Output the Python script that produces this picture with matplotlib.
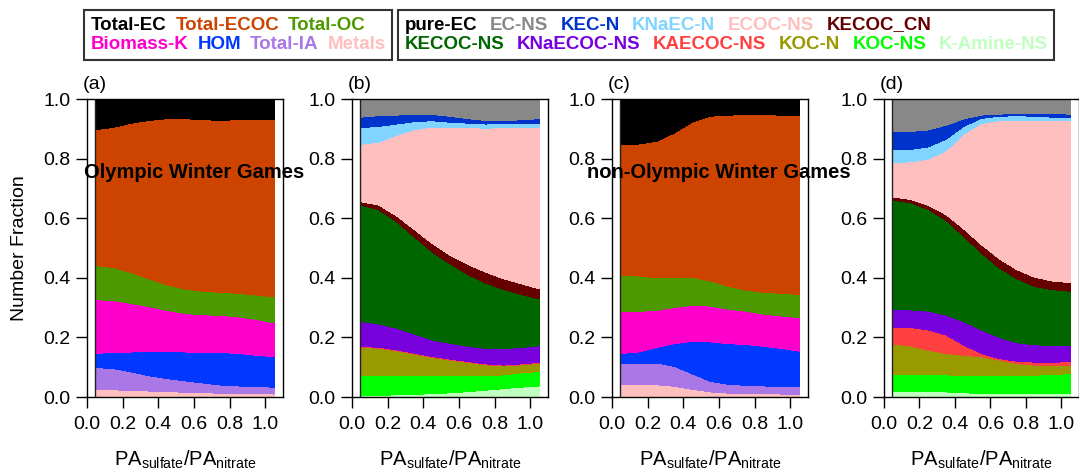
import matplotlib
matplotlib.use('Agg')
import matplotlib.pyplot as plt
from matplotlib.offsetbox import TextArea, HPacker, VPacker, AnchoredOffsetbox

plt.rcParams['font.family'] = ['Liberation Sans', 'DejaVu Sans']
plt.rcParams['mathtext.default'] = 'regular'

# PA_sulfate / PA_nitrate bins
x = [0.05, 0.15, 0.25, 0.35, 0.45, 0.55, 0.65, 0.75, 0.85, 0.95, 1.05]

# ---- main classes, bottom -> top ----
main_names = ['Metals', 'Total-IA', 'HOM', 'Biomass-K', 'Total-OC', 'Total-ECOC', 'Total-EC']
main_colors = ['#FFBFBF', '#AA77E6', '#0038FF', '#FF00CC', '#4D9900', '#CC4400', '#000000']

# (a) Olympic Winter Games
olym_metals = [0.025, 0.024, 0.022, 0.020, 0.018, 0.016, 0.014, 0.013, 0.012, 0.011, 0.010]
olym_ia = [0.074, 0.071, 0.062, 0.051, 0.044, 0.038, 0.033, 0.027, 0.025, 0.024, 0.023]
olym_hom = [0.047, 0.055, 0.067, 0.081, 0.090, 0.097, 0.103, 0.109, 0.109, 0.105, 0.102]
olym_bk = [0.181, 0.173, 0.163, 0.151, 0.139, 0.129, 0.126, 0.125, 0.123, 0.120, 0.114]
olym_oc = [0.114, 0.111, 0.103, 0.093, 0.085, 0.082, 0.079, 0.077, 0.079, 0.082, 0.087]
olym_ecoc = [0.456, 0.471, 0.502, 0.532, 0.558, 0.572, 0.575, 0.578, 0.582, 0.588, 0.594]
olym_ec = [0.103, 0.095, 0.081, 0.072, 0.066, 0.066, 0.070, 0.071, 0.070, 0.070, 0.070]

# (c) non-Olympic Winter Games
non_metals = [0.043, 0.043, 0.041, 0.036, 0.026, 0.017, 0.013, 0.012, 0.011, 0.010, 0.009]
non_ia = [0.069, 0.071, 0.073, 0.067, 0.052, 0.036, 0.030, 0.027, 0.026, 0.026, 0.025]
non_hom = [0.034, 0.037, 0.052, 0.076, 0.109, 0.132, 0.136, 0.137, 0.133, 0.127, 0.120]
non_bk = [0.140, 0.136, 0.125, 0.121, 0.121, 0.120, 0.116, 0.112, 0.108, 0.109, 0.112]
non_oc = [0.123, 0.119, 0.109, 0.100, 0.093, 0.085, 0.077, 0.071, 0.073, 0.076, 0.078]
non_ecoc = [0.437, 0.443, 0.458, 0.486, 0.521, 0.552, 0.574, 0.588, 0.596, 0.598, 0.601]
non_ec = [0.154, 0.151, 0.142, 0.114, 0.078, 0.058, 0.054, 0.053, 0.053, 0.054, 0.055]

# ---- sub classes, bottom -> top ----
sub_names = ['K-Amine-NS', 'KOC-NS', 'KOC-N', 'KAECOC-NS', 'KNaECOC-NS', 'KECOC-NS',
             'KECOC_CN', 'ECOC-NS', 'KNaEC-N', 'KEC-N', 'EC-NS', 'pure-EC']
sub_colors = ['#C0FFC0', '#00FF00', '#999900', '#FF4040', '#7700DD', '#006600',
              '#660000', '#FFBFBF', '#80D4FF', '#0033CC', '#888888', '#000000']

# (b) Olympic Winter Games
olym_kamine = [0.005, 0.006, 0.007, 0.009, 0.011, 0.014, 0.018, 0.023, 0.028, 0.033, 0.037]
olym_kocns = [0.068, 0.067, 0.065, 0.063, 0.062, 0.059, 0.054, 0.049, 0.046, 0.048, 0.048]
olym_kocn = [0.093, 0.091, 0.083, 0.072, 0.060, 0.051, 0.044, 0.036, 0.030, 0.027, 0.028]
olym_kaecoc = [0.003, 0.003, 0.003, 0.003, 0.003, 0.003, 0.003, 0.003, 0.003, 0.003, 0.003]
olym_knaecoc = [0.084, 0.078, 0.073, 0.064, 0.055, 0.053, 0.051, 0.052, 0.055, 0.055, 0.056]
olym_kecocns = [0.391, 0.384, 0.357, 0.326, 0.296, 0.267, 0.241, 0.219, 0.199, 0.178, 0.157]
olym_kecoccn = [0.011, 0.015, 0.020, 0.025, 0.028, 0.029, 0.034, 0.037, 0.036, 0.036, 0.034]
olym_ecocns = [0.193, 0.211, 0.270, 0.335, 0.391, 0.430, 0.459, 0.483, 0.507, 0.526, 0.543]
olym_knaecn = [0.056, 0.053, 0.038, 0.027, 0.021, 0.016, 0.015, 0.014, 0.013, 0.012, 0.013]
olym_kecn = [0.035, 0.036, 0.030, 0.025, 0.021, 0.020, 0.015, 0.012, 0.011, 0.012, 0.015]
olym_ecns = [0.058, 0.053, 0.051, 0.048, 0.049, 0.055, 0.063, 0.069, 0.069, 0.067, 0.063]
olym_pureec = [0.003, 0.003, 0.003, 0.003, 0.003, 0.003, 0.003, 0.003, 0.003, 0.003, 0.003]

# (d) non-Olympic Winter Games
non_kamine = [0.017, 0.018, 0.018, 0.017, 0.014, 0.012, 0.012, 0.013, 0.013, 0.013, 0.013]
non_kocns = [0.058, 0.057, 0.057, 0.057, 0.059, 0.060, 0.059, 0.059, 0.060, 0.063, 0.065]
non_kocn = [0.103, 0.096, 0.082, 0.072, 0.067, 0.063, 0.053, 0.040, 0.034, 0.031, 0.029]
non_kaecoc = [0.056, 0.062, 0.068, 0.062, 0.034, 0.011, 0.005, 0.008, 0.010, 0.010, 0.011]
non_knaecoc = [0.058, 0.059, 0.063, 0.067, 0.079, 0.079, 0.071, 0.062, 0.058, 0.056, 0.056]
non_kecocns = [0.368, 0.360, 0.341, 0.318, 0.286, 0.258, 0.233, 0.215, 0.196, 0.187, 0.181]
non_kecoccn = [0.011, 0.011, 0.014, 0.019, 0.025, 0.028, 0.031, 0.030, 0.031, 0.029, 0.029]
non_ecocns = [0.116, 0.126, 0.155, 0.214, 0.318, 0.407, 0.463, 0.502, 0.527, 0.540, 0.543]
non_knaecn = [0.044, 0.042, 0.041, 0.039, 0.026, 0.017, 0.015, 0.015, 0.013, 0.010, 0.011]
non_kecn = [0.059, 0.060, 0.057, 0.047, 0.025, 0.011, 0.007, 0.008, 0.010, 0.013, 0.011]
non_ecns = [0.107, 0.106, 0.101, 0.085, 0.064, 0.051, 0.048, 0.045, 0.045, 0.045, 0.048]
non_pureec = [0.003, 0.003, 0.003, 0.003, 0.003, 0.003, 0.003, 0.003, 0.003, 0.003, 0.003]

panels = [
    ('(a)', [olym_metals, olym_ia, olym_hom, olym_bk, olym_oc, olym_ecoc, olym_ec], main_colors, 'Olympic Winter Games'),
    ('(b)', [olym_kamine, olym_kocns, olym_kocn, olym_kaecoc, olym_knaecoc, olym_kecocns, olym_kecoccn,
             olym_ecocns, olym_knaecn, olym_kecn, olym_ecns, olym_pureec], sub_colors, None),
    ('(c)', [non_metals, non_ia, non_hom, non_bk, non_oc, non_ecoc, non_ec], main_colors, 'non-Olympic Winter Games'),
    ('(d)', [non_kamine, non_kocns, non_kocn, non_kaecoc, non_knaecoc, non_kecocns, non_kecoccn,
             non_ecocns, non_knaecn, non_kecn, non_ecns, non_pureec], sub_colors, None),
]

W, H = 1079, 475
fig = plt.figure(figsize=(W / 100, H / 100), dpi=100)
lefts = [87, 352, 612, 884]
widths = [196, 196, 196, 195]

for (tag, series, colors, title), left, w in zip(panels, lefts, widths):
    ax = fig.add_axes([left / W, 78 / H, w / W, 298 / H])
    ax.stackplot(x, *series, colors=colors, linewidth=0, antialiased=False)
    ax.axvline(0.045, color='#222222', lw=1)
    ax.set_xlim(0, 1.1)
    ax.set_ylim(0, 1.0)
    ax.set_xticks([0, 0.2, 0.4, 0.6, 0.8, 1.0])
    ax.set_xticklabels(['0.0', '0.2', '0.4', '0.6', '0.8', '1.0'])
    ax.set_yticks([0, 0.2, 0.4, 0.6, 0.8, 1.0])
    ax.set_yticklabels(['0.0', '0.2', '0.4', '0.6', '0.8', '1.0'])
    ax.tick_params(direction='out', length=8, width=1, labelsize=14, pad=4)
    ax.tick_params(axis='x', pad=6)
    for s in ax.spines.values():
        s.set_linewidth(1)
    ax.set_xlabel('PA$_{sulfate}$/PA$_{nitrate}$', fontsize=14.5, va='top')
    ax.xaxis.set_label_coords(0.5, -0.175)
    ax.text(-0.02, 1.034, tag, transform=ax.transAxes, fontsize=14, ha='left', va='baseline')
    if title:
        ax.text(0.6, 0.755, title, fontsize=14.5, fontweight='bold', ha='center', va='center', zorder=5)

fig.text(20 / W, (475 - 248) / H, 'Number Fraction', rotation=90, fontsize=14, ha='center', va='center')


def text_box(rows, x0, sep):
    vrows = []
    for row in rows:
        items = [TextArea(n, textprops=dict(color=c, fontsize=13.5, fontweight='bold')) for n, c in row]
        vrows.append(HPacker(children=items, align='baseline', pad=0, sep=sep))
    box = VPacker(children=vrows, align='left', pad=0, sep=2)
    anch = AnchoredOffsetbox(loc='upper left', child=box, pad=0.36, frameon=True,
                             bbox_to_anchor=(x0 / W, 1 - 10 / H), bbox_transform=fig.transFigure,
                             borderpad=0, prop=dict(size=13))
    anch.patch.set_edgecolor('#333333')
    anch.patch.set_linewidth(1.5)
    anch.patch.set_boxstyle('square', pad=0)
    fig.add_artist(anch)


main_top = list(zip(main_names, main_colors))[::-1]
text_box([main_top[:3], main_top[3:]], 84, 6.5)
sub_top = list(zip(sub_names, sub_colors))[::-1]
text_box([sub_top[:6], sub_top[6:]], 398, 9)

fig.savefig('out.png', dpi=100)
